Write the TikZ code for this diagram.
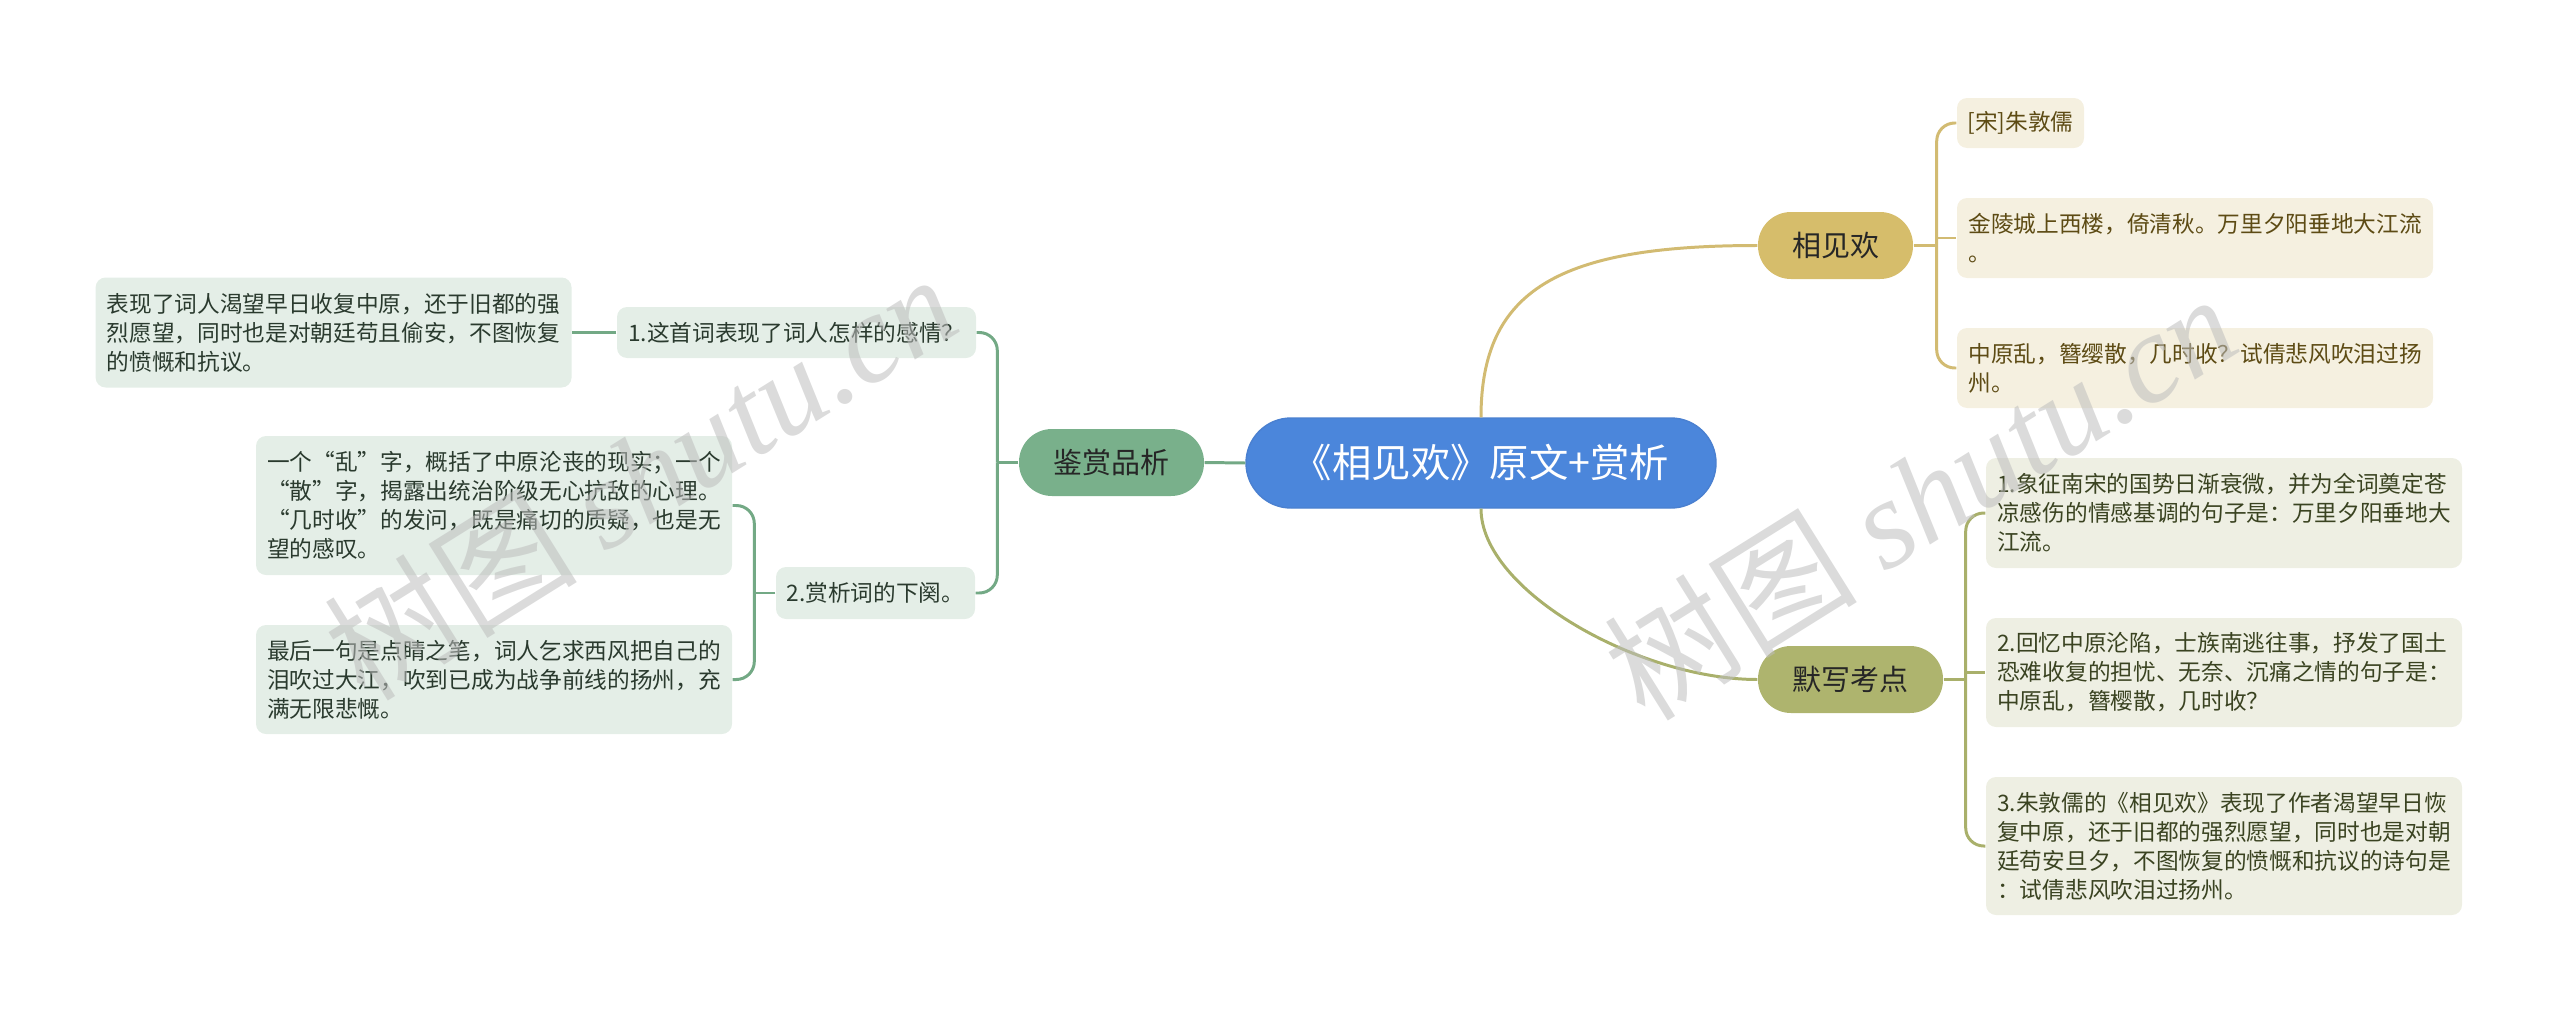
\documentclass[tikz,border=0pt]{standalone}
\usepackage{fontspec}
\setmainfont{Noto Sans CJK SC}
\newfontfamily\wmfont{Liberation Serif}
\usepackage{tikz}
\usetikzlibrary{positioning}
\definecolor{RootBlue}{HTML}{4B86DB}
\definecolor{RootEdge}{HTML}{4A80D0}
\definecolor{SageFill}{HTML}{79B08B}
\definecolor{SageLine}{HTML}{73A985}
\definecolor{SageLeaf}{HTML}{E4EEE7}
\definecolor{SageText}{HTML}{2A3A2E}
\definecolor{GoldFill}{HTML}{D6BD6B}
\definecolor{GoldLine}{HTML}{D2BB72}
\definecolor{GoldLeaf}{HTML}{F5F0E0}
\definecolor{GoldText}{HTML}{5D4B14}
\definecolor{OliveFill}{HTML}{AEB46E}
\definecolor{OliveLine}{HTML}{A9B06B}
\definecolor{OliveLeaf}{HTML}{EEEFE3}
\definecolor{OliveText}{HTML}{3A4321}
\definecolor{MarkGray}{HTML}{BDBDBD}

\begin{document}
\begin{tikzpicture}[
    rootbox/.style={draw=RootEdge, fill=RootBlue, text=white, rounded corners=0.45cm, minimum width=4.70cm, minimum height=0.90cm, font=\fontsize{11.2pt}{13pt}\selectfont},
    topic/.style={rounded corners=0.33cm, minimum height=0.67cm, text=black!85, font=\fontsize{8.25pt}{10pt}\selectfont},
    leaf/.style={rounded corners=0.1cm, align=left, inner xsep=0.1cm, minimum width=4.76cm, font=\fontsize{6.45pt}{8.25pt}\selectfont},
    leafl/.style={leaf, fill=SageLeaf, text=SageText},
    leafy/.style={leaf, fill=GoldLeaf, text=GoldText},
    leafo/.style={leaf, fill=OliveLeaf, text=OliveText},
    lnG/.style={draw=SageLine, line width=0.85pt, rounded corners=0.18cm},
    lnY/.style={draw=GoldLine, line width=0.85pt, rounded corners=0.18cm},
    lnO/.style={draw=OliveLine, line width=0.85pt, rounded corners=0.18cm},
    wmark/.style={text=MarkGray, opacity=0.55, rotate=32, font=\fontsize{36pt}{40pt}\selectfont}
]
\useasboundingbox (0,0) rectangle (25.6,-10.13);

% 中心与一级主题
\node[rootbox] (root) at (14.81,-4.63) {《相见欢》原文+赏析};
\node[topic, fill=SageFill, minimum width=1.85cm] (jsp) at (11.115,-4.625) {鉴赏品析};
\node[topic, fill=GoldFill, minimum width=1.55cm] (xjh) at (18.355,-2.455) {相见欢};
\node[topic, fill=OliveFill, minimum width=1.85cm] (mxkd) at (18.505,-6.795) {默写考点};

% 左侧：鉴赏品析
\node[leafl, align=center, minimum width=3.59cm, minimum height=0.51cm] (q1) at (7.965,-3.325) {1.这首词表现了词人怎样的感情？};
\node[leafl, minimum height=1.10cm, left=0.44cm of q1] (a1) {表现了词人渴望早日收复中原，还于旧都的强\\烈愿望，同时也是对朝廷苟且偷安，不图恢复\\的愤慨和抗议。};
\node[leafl, align=center, minimum width=1.99cm, minimum height=0.52cm] (q2) at (8.755,-5.93) {2.赏析词的下阕。};
\node[leafl, minimum height=1.39cm] (a2) at (4.94,-5.055) {一个“乱”字，概括了中原沦丧的现实；一个\\“散”字，揭露出统治阶级无心抗敌的心理。\\“几时收”的发问，既是痛切的质疑，也是无\\望的感叹。};
\node[leafl, minimum height=1.09cm] (a3) at (4.94,-6.795) {最后一句是点睛之笔，词人乞求西风把自己的\\泪吹过大江，吹到已成为战争前线的扬州，充\\满无限悲慨。};

% 右上：相见欢
\node[leafy, minimum width=1.27cm, minimum height=0.50cm] (r1) at (20.205,-1.23) {[宋]朱敦儒};
\node[leafy, minimum height=0.80cm] (r2) at (21.95,-2.38) {金陵城上西楼，倚清秋。万里夕阳垂地大江流\\。};
\node[leafy, minimum height=0.80cm] (r3) at (21.95,-3.68) {中原乱，簪缨散，几时收？试倩悲风吹泪过扬\\州。};

% 右下：默写考点
\node[leafo, minimum height=1.10cm] (b1) at (22.24,-5.13) {1.象征南宋的国势日渐衰微，并为全词奠定苍\\凉感伤的情感基调的句子是：万里夕阳垂地大\\江流。};
\node[leafo, minimum height=1.09cm] (b2) at (22.24,-6.725) {2.回忆中原沦陷，士族南逃往事，抒发了国土\\恐难收复的担忧、无奈、沉痛之情的句子是：\\中原乱，簪樱散，几时收？};
\node[leafo, minimum height=1.38cm] (b3) at (22.24,-8.46) {3.朱敦儒的《相见欢》表现了作者渴望早日恢\\复中原，还于旧都的强烈愿望，同时也是对朝\\廷苟安旦夕，不图恢复的愤慨和抗议的诗句是\\：试倩悲风吹泪过扬州。};

% 中心连线
\draw[lnG] (root.west) -- (jsp.east);
\draw[lnY] (root.north) .. controls +(0,1.28) and +(-1.98,0) .. (xjh.west);
\draw[lnO] (root.south) .. controls +(0,-0.82) and +(-1.18,0) .. (mxkd.west);

% 左侧括线
\draw[lnG] (jsp.west) -- ++(-0.21,0) coordinate (jspb);
\draw[lnG] (jspb) |- (q1.east);
\draw[lnG] (jspb) |- (q2.east);
\draw[lnG] (q1.west) -- (a1.east);
\draw[lnG] (q2.west) -- ++(-0.21,0) coordinate (q2b);
\draw[lnG] (q2b) |- (a2.east);
\draw[lnG] (q2b) |- (a3.east);

% 右侧括线
\draw[lnY] (xjh.east) -- ++(0.23,0) coordinate (xjhb);
\draw[lnY] (xjhb) |- (r1.west);
\draw[lnY, sharp corners] (xjhb) |- (r2.west);
\draw[lnY] (xjhb) |- (r3.west);
\draw[lnO] (mxkd.east) -- ++(0.22,0) coordinate (mxkdb);
\draw[lnO] (mxkdb) |- (b1.west);
\draw[lnO, sharp corners] (mxkdb) |- (b2.west);
\draw[lnO] (mxkdb) |- (b3.west);

% 水印
\node[wmark] (wm1) at (6.40,-4.75) {树图 {\wmfont\itshape shutu.cn}};
\node[wmark] (wm2) at (19.20,-4.95) {树图 {\wmfont\itshape shutu.cn}};
\end{tikzpicture}
\end{document}
